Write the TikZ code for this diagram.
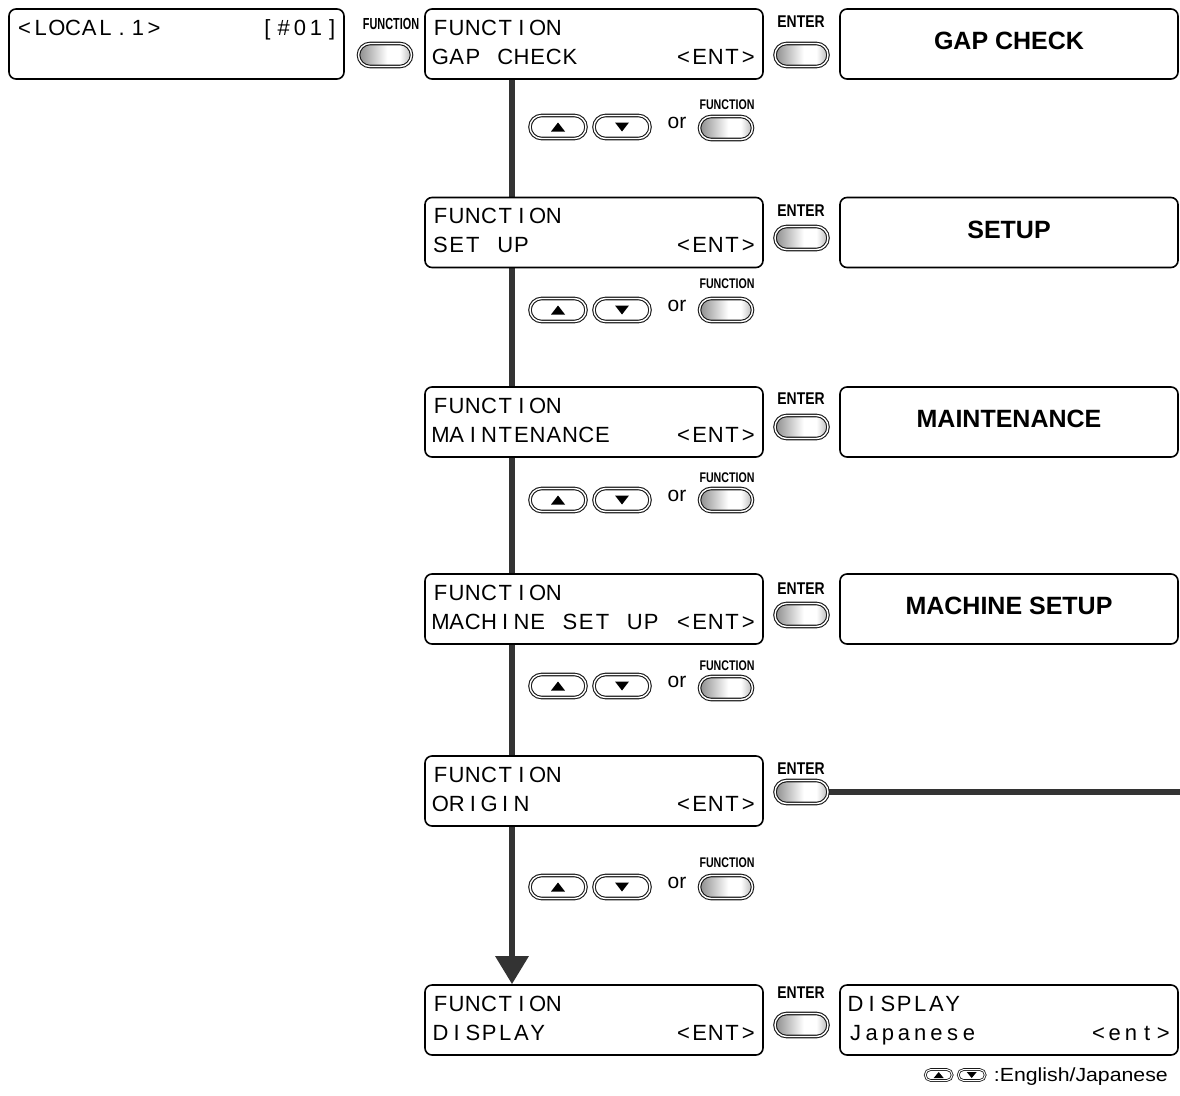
\documentclass[tikz,border=0pt]{standalone}
\usepackage{fontspec}
\setmainfont{Liberation Sans}
\usepackage{graphicx}
\usetikzlibrary{shapes.misc,arrows.meta,backgrounds}
\definecolor{connc}{HTML}{333333}
\makeatletter
\newcommand\lcd[1]{\@tfor\lcdch:=#1\do{\makebox[16.2pt][c]{\lcdch}}}
\makeatother
\pgfdeclarehorizontalshading{btnshade}{100bp}{color(0bp)=(black!45); color(25bp)=(black!45); color(52bp)=(white); color(64bp)=(white); color(75bp)=(black!28); color(100bp)=(black!28)}
\tikzset{
  lcdbox/.style={draw, line width=1.6pt, rounded corners=7pt, fill=white, minimum width=338, minimum height=70, inner sep=0},
  resbox/.style={lcdbox, font=\fontsize{25}{30}\selectfont\bfseries, text depth=6pt},
  lcdtxt/.style={anchor=base west, inner sep=0, font=\fontsize{22}{26}\selectfont},
  gbtn/.style={rounded rectangle, draw=black!90, line width=1.1pt, double=white, double distance=1.4pt, minimum width=53, minimum height=23, inner sep=0, shading=btnshade},
  akey/.style={rounded rectangle, draw=black!90, line width=1.1pt, double=white, double distance=1.4pt, minimum width=56, minimum height=23, inner sep=0, fill=white},
  skey/.style={akey, line width=0.8pt, double distance=1pt, minimum width=27, minimum height=11},
  btnlbl/.style={inner sep=0, font=\fontsize{16}{18}\selectfont\bfseries},
  ortxt/.style={anchor=base, inner sep=0, font=\fontsize{21}{24}\selectfont},
  conn/.style={draw=connc, line width=6pt},
}
\begin{document}
\begin{tikzpicture}[x=1pt, y=-1pt]
\useasboundingbox (0,0) rectangle (1180,1095);

% local display and FUNCTION key
\node[lcdbox, minimum width=335] (loc) at (176.5,44) {};
\node[lcdtxt] (loct) at ([shift={(8,27)}]loc.north west) {\lcd{<LOCAL.1>~~~~~~[\#01]}};
\node[gbtn] (fn0) at (385,55) {};
\node[btnlbl] (fn0l) at (391,24) {\scalebox{0.68}[1]{FUNCTION}};

% function displays
\node[lcdbox] (f1) at (594,44) {};
\node[lcdbox] (f2) at (594,232.5) {};
\node[lcdbox] (f3) at (594,422) {};
\node[lcdbox] (f4) at (594,609) {};
\node[lcdbox] (f5) at (594,791) {};
\node[lcdbox] (f6) at (594,1020) {};
\foreach \n/\t in {f1/GAP~CHECK~~~~~~<ENT>, f2/SET~UP~~~~~~~~~<ENT>, f3/MAINTENANCE~~~~<ENT>, f4/MACHINE~SET~UP~<ENT>, f5/ORIGIN~~~~~~~~~<ENT>, f6/DISPLAY~~~~~~~~<ENT>}{
  \node[lcdtxt] (\n a) at ([shift={(8,27)}]\n.north west) {\lcd{FUNCTION}};
  \node[lcdtxt] (\n b) at ([shift={(8,56)}]\n.north west) {\expandafter\lcd\expandafter{\t}};
}

% result boxes
\node[resbox] (r1) at (1009,44) {GAP CHECK};
\node[resbox] (r2) at (1009,232.5) {SETUP};
\node[resbox] (r3) at (1009,422) {MAINTENANCE};
\node[resbox] (r4) at (1009,609) {MACHINE SETUP};
\node[lcdbox] (r6) at (1009,1020) {};
\node[lcdtxt] (r6a) at ([shift={(8,27)}]r6.north west) {\lcd{DISPLAY}};
\node[lcdtxt] (r6b) at ([shift={(8,56)}]r6.north west) {\lcd{Japanese~~~~~~~<ent>}};

% ENTER keys
\foreach \i/\by/\ly in {1/55/22, 2/238/211, 3/427/399, 4/615/589, 5/792/769, 6/1025/993}{
  \node[gbtn] (ent\i) at (801.5,\by) {};
  \node[btnlbl] (ent\i l) at (801,\ly) {\scalebox{0.82}[1]{\fontsize{17}{19}\selectfont ENTER}};
}

% arrow keys rows
\foreach \i/\ky/\fy/\ly in {1/127/128/105, 2/310/310/284, 3/500/500/478, 4/686/688/666, 5/887/887/863}{
  \node[akey] (up\i) at (558,\ky) {};
  \node[akey] (dn\i) at (622,\ky) {};
  \fill ([shift={(up\i.center)}]-7,4.5) -- ++(14,0) -- ++(-7,-9) -- cycle;
  \fill ([shift={(dn\i.center)}]-7,-4.5) -- ++(14,0) -- ++(-7,9) -- cycle;
  \node[ortxt] (or\i) at (677,\ky+1) {or};
  \node[gbtn] (fk\i) at (726,\fy) {};
  \node[btnlbl] (fk\i l) at (727,\ly) {\scalebox{0.76}[1]{\fontsize{14}{16}\selectfont FUNCTION}};
}

% legend
\node[anchor=base east, inner sep=0, font=\fontsize{19}{22}\selectfont] (leg) at (1168,1081) {\scalebox{1.12}[1]{:English/Japanese}};
\node[skey] (lk2) at ([shift={(-22,-6)}]leg.base west) {};
\node[skey] (lk1) at ([shift={(-33,0)}]lk2.center) {};
\fill ([shift={(lk1.center)}]-5,3) -- ++(10,0) -- ++(-5,-6) -- cycle;
\fill ([shift={(lk2.center)}]-5,-3) -- ++(10,0) -- ++(-5,6) -- cycle;

% connectors
\coordinate (vx) at (512,0);
\coordinate (hend) at (1180,792);
\begin{scope}[on background layer]
  \draw[conn, -{Triangle[width=32pt,length=28pt]}] (f1.south -| vx) -- (f6.north -| vx);
  \draw[conn] (ent5.east) -- (hend);
\end{scope}
\end{tikzpicture}
\end{document}
